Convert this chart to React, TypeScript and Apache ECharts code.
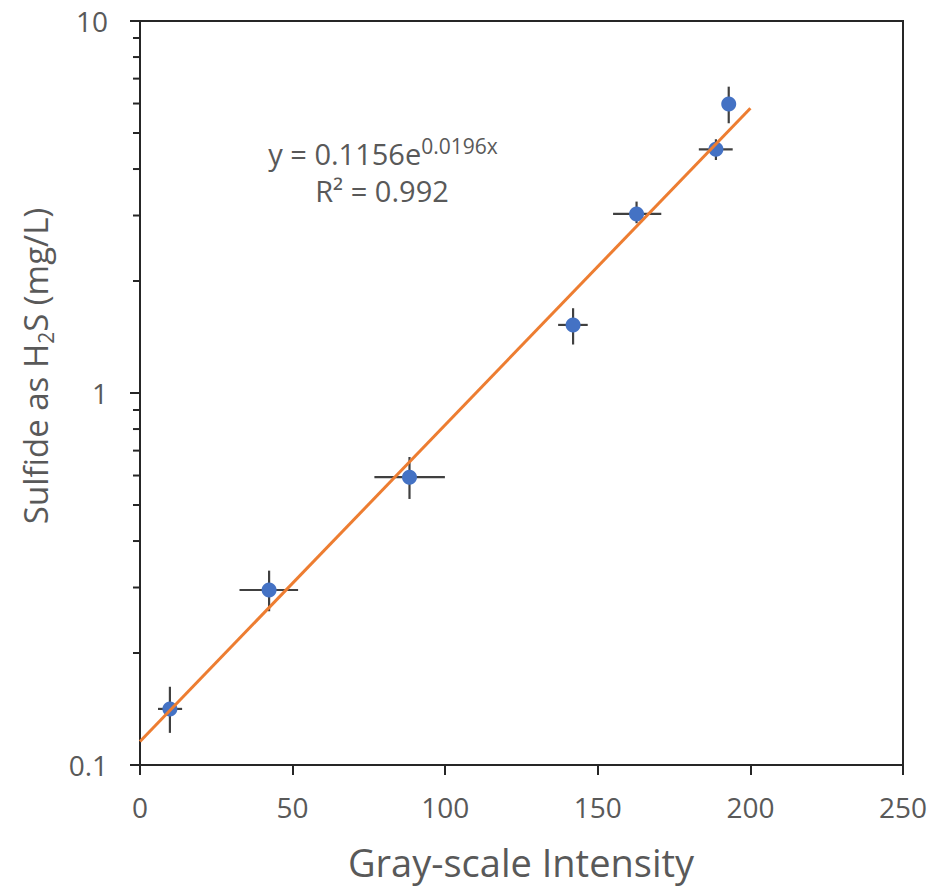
import React, { useEffect, useRef } from "react";
import * as echarts from "echarts";

// Measured data (Gray-scale intensity vs sulfide as H2S, mg/L)
const intensity = [9.8, 42.3, 88.3, 141.9, 162.7, 188.7, 192.9];
const sulfide = [0.1415, 0.2954, 0.594, 1.524, 3.03, 4.52, 5.98];
const intensityErrLow = [5.9, 32.6, 76.8, 137.0, 155.0, 183.1, 192.0];
const intensityErrHigh = [13.8, 51.8, 99.9, 146.7, 170.8, 194.2, 193.8];
const sulfideErrLow = [0.122, 0.259, 0.519, 1.35, 2.86, 4.23, 5.31];
const sulfideErrHigh = [0.1623, 0.333, 0.673, 1.69, 3.27, 4.81, 6.66];

// Exponential trendline y = 0.1156 e^(0.0196x), endpoints
const trendX = [0, 200];
const trendY = [0.1156, 5.83];

// Tick values
const xTickLabels = [0, 50, 100, 150, 200, 250];
const yMajorTicks = [0.1, 1, 10];
const yMinorTicks = [0.2, 0.3, 0.4, 0.5, 0.6, 0.7, 0.8, 0.9, 2, 3, 4, 5, 6, 7, 8, 9];

const FONT = "'Open Sans', 'Noto Sans', sans-serif";
const TEXT = "#595959";
const AXIS = "#262626";

export default function App() {
  const ref = useRef<HTMLDivElement>(null);

  useEffect(() => {
    if (!ref.current) return;
    const chart = echarts.init(ref.current, undefined, { renderer: "svg" });

    const errData = intensity.map((x, i) => [
      x,
      sulfide[i],
      intensityErrLow[i],
      intensityErrHigh[i],
      sulfideErrLow[i],
      sulfideErrHigh[i],
    ]);

    const option: any = {
      animation: false,
      backgroundColor: "#ffffff",
      grid: {
        left: 140,
        right: 31,
        top: 21,
        bottom: 123,
        show: true,
        borderColor: AXIS,
        borderWidth: 2,
        backgroundColor: "transparent",
      },
      xAxis: {
        type: "value",
        min: xTickLabels[0],
        max: xTickLabels[xTickLabels.length - 1],
        interval: 50,
        axisLine: { show: true, lineStyle: { color: AXIS, width: 2 } },
        axisTick: { show: true, inside: false, length: 10, lineStyle: { color: AXIS, width: 2 } },
        splitLine: { show: false },
        axisLabel: {
          color: TEXT,
          fontFamily: FONT,
          fontSize: 28,
          margin: 28,
        },
      },
      yAxis: {
        type: "log",
        logBase: 10,
        min: yMajorTicks[0],
        max: yMajorTicks[yMajorTicks.length - 1],
        axisLine: { show: true, lineStyle: { color: AXIS, width: 2 } },
        axisTick: { show: true, inside: false, length: 10, lineStyle: { color: AXIS, width: 2 } },
        splitLine: { show: false },
        axisLabel: {
          color: TEXT,
          fontFamily: FONT,
          fontSize: 28,
          margin: 32,
          formatter: (v: number) => (v >= 1 ? String(Math.round(v)) : String(+v.toFixed(1))),
        },
      },
      graphic: [
        {
          type: "text",
          x: 521,
          y: 862,
          style: {
            text: "Gray-scale Intensity",
            fill: TEXT,
            font: `38px ${FONT}`,
            align: "center",
            verticalAlign: "middle",
          },
        },
        {
          type: "text",
          x: 35,
          y: 366,
          rotation: Math.PI / 2,
          style: {
            text: "Sulfide as H{sub|2}S (mg/L)",
            fill: TEXT,
            font: `33px ${FONT}`,
            align: "center",
            verticalAlign: "middle",
            rich: {
              sub: {
                fontFamily: FONT,
                fontSize: 21,
                fill: TEXT,
                verticalAlign: "bottom",
                padding: [22, 0, 0, 0],
              },
            },
          },
        },
        {
          type: "text",
          x: 383,
          y: 153,
          style: {
            text: "y = 0.1156e{sup|0.0196x}",
            fill: TEXT,
            font: `29px ${FONT}`,
            align: "center",
            verticalAlign: "middle",
            rich: {
              sup: {
                fontFamily: FONT,
                fontSize: 21,
                fill: TEXT,
                verticalAlign: "top",
                padding: [0, 0, 14, 0],
              },
            },
          },
        },
        {
          type: "text",
          x: 382,
          y: 190,
          style: {
            text: "R² = 0.992",
            fill: TEXT,
            font: `29px ${FONT}`,
            align: "center",
            verticalAlign: "middle",
          },
        },
      ],
      series: [
        {
          type: "custom",
          name: "minorTicks",
          clip: false,
          silent: true,
          z: 5,
          data: yMinorTicks.map((v) => [0, v]),
          renderItem: (params: any, api: any) => {
            const p = api.coord([0, api.value(1)]);
            return {
              type: "line",
              shape: { x1: p[0] - 7, y1: p[1], x2: p[0], y2: p[1] },
              style: { stroke: AXIS, lineWidth: 2 },
            };
          },
        },
        {
          type: "custom",
          name: "errorBars",
          clip: false,
          silent: true,
          z: 2,
          data: errData,
          renderItem: (params: any, api: any) => {
            const y = api.value(1);
            const x = api.value(0);
            const h1 = api.coord([api.value(2), y]);
            const h2 = api.coord([api.value(3), y]);
            const v1 = api.coord([x, api.value(4)]);
            const v2 = api.coord([x, api.value(5)]);
            const style = { stroke: "#404040", lineWidth: 2.2 };
            return {
              type: "group",
              children: [
                { type: "line", shape: { x1: h1[0], y1: h1[1], x2: h2[0], y2: h2[1] }, style },
                { type: "line", shape: { x1: v1[0], y1: v1[1], x2: v2[0], y2: v2[1] }, style },
              ],
            };
          },
        },
        {
          type: "scatter",
          name: "data",
          z: 3,
          symbol: "circle",
          symbolSize: 15,
          itemStyle: { color: "#4472C4", opacity: 1 },
          data: intensity.map((x, i) => [x, sulfide[i]]),
        },
        {
          type: "line",
          name: "trend",
          z: 4,
          showSymbol: false,
          symbol: "none",
          lineStyle: { color: "#ED7D31", width: 3 },
          data: trendX.map((x, i) => [x, trendY[i]]),
        },
      ],
    };

    chart.setOption(option);
    return () => chart.dispose();
  }, []);

  return (
    <div
      ref={ref}
      style={{ position: "fixed", left: 0, top: 0, width: 934, height: 888, background: "#fff" }}
    />
  );
}
